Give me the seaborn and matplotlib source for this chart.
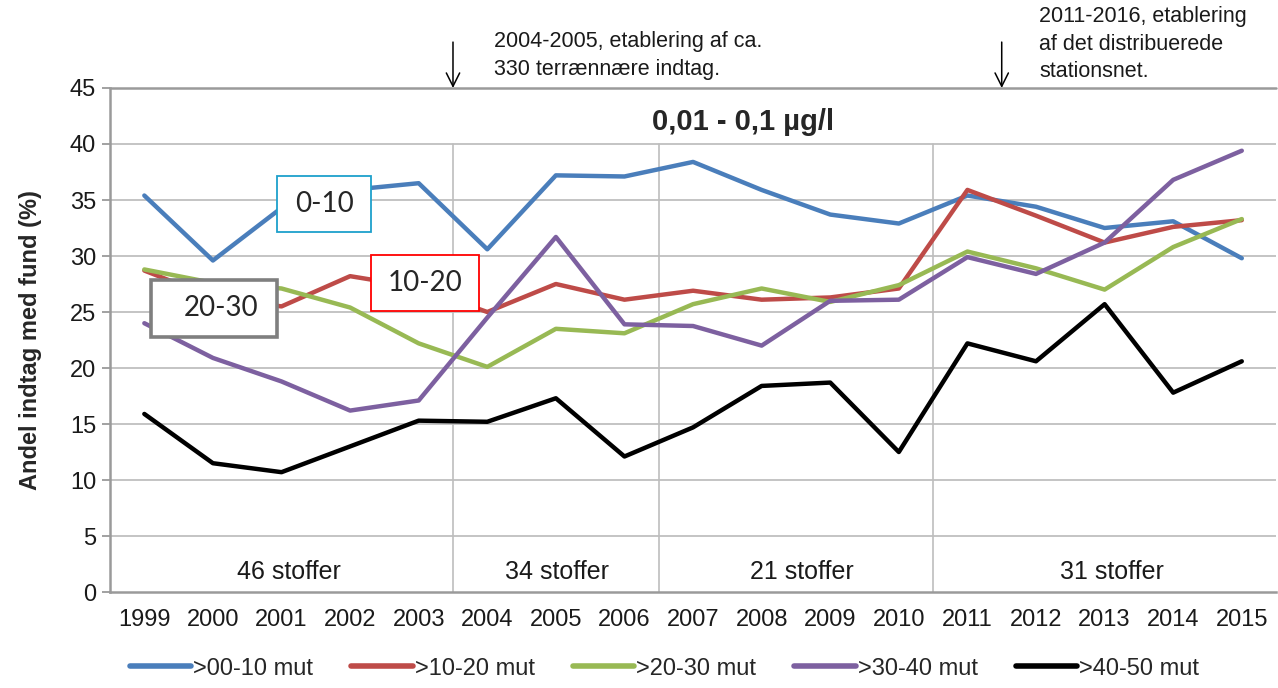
import numpy as np
import pandas as pd
import matplotlib
matplotlib.use("Agg")
import matplotlib.pyplot as plt
import seaborn as sns
from matplotlib.lines import Line2D
from matplotlib.patches import Rectangle

years = list(range(1999, 2016))
s_00_10 = [35.4, 29.6, 34.3, 35.9, 36.5, 30.6, 37.2, 37.1, 38.4, 35.9, 33.7, 32.9, 35.4, 34.4, 32.5, 33.1, 29.8]
s_10_20 = [28.7, 26.3, 25.5, 28.2, 27.2, 25.0, 27.5, 26.1, 26.9, 26.1, 26.3, 27.1, 35.9, 33.6, 31.2, 32.6, 33.2]
s_20_30 = [28.8, 27.6, 27.1, 25.4, 22.2, 20.1, 23.5, 23.1, 25.7, 27.1, 25.9, 27.4, 30.4, 28.9, 27.0, 30.8, 33.3]
s_30_40 = [24.0, 20.9, 18.8, 16.2, 17.1, 24.5, 31.7, 23.9, 23.75, 22.0, 26.0, 26.1, 29.9, 28.4, 31.2, 36.8, 39.4]
s_40_50 = [15.9, 11.5, 10.7, 13.0, 15.3, 15.2, 17.3, 12.1, 14.7, 18.4, 18.7, 12.5, 22.2, 20.6, 25.7, 17.8, 20.6]
series_names = [">00-10 mut", ">10-20 mut", ">20-30 mut", ">30-40 mut", ">40-50 mut"]
series_colors = ["#4a7ebb", "#be4b48", "#98b954", "#7d60a0", "#000000"]
period_labels = ["46 stoffer", "34 stoffer", "21 stoffer", "31 stoffer"]
period_centers = [2001.11, 2005.02, 2008.59, 2013.1]
period_breaks = [2003.5, 2006.5, 2010.5]
title = "0,01 - 0,1 µg/l"
ylabel = "Andel indtag med fund (%)"
note1 = "2004-2005, etablering af ca.\n330 terrænnære indtag."
note2 = "2011-2016, etablering\naf det distribuerede\nstationsnet."
box_labels = ["0-10", "10-20", "20-30"]

sns.set_theme(style="white")
plt.rcParams["font.family"] = ["Liberation Sans", "DejaVu Sans"]

all_series = [s_00_10, s_10_20, s_20_30, s_30_40, s_40_50]
df = pd.concat([
    pd.DataFrame({"year": years, "value": vals, "group": name})
    for name, vals in zip(series_names, all_series)
], ignore_index=True)

fig = plt.figure(figsize=(12.78, 6.88), dpi=100)
ax = fig.add_axes([0.0861, 0.1395, 0.9124, 0.7326])

# gridlines
for yv in range(5, 45, 5):
    ax.axhline(yv, color="#c4c4c4", lw=1.4, zorder=0)
ax.axhline(45, color="#9a9a9a", lw=1.8, zorder=0, clip_on=False)
for xb in period_breaks:
    ax.plot([xb, xb], [0, 40], color="#bdbdbd", lw=1.2, zorder=0)

sns.lineplot(data=df, x="year", y="value", hue="group", palette=series_colors,
             hue_order=series_names, lw=3.2, ax=ax, legend=False, zorder=3)

ax.set_xlim(1998.5, 2015.5)
ax.set_ylim(0, 45)
ax.set_yticks(range(0, 46, 5))
ax.set_xticks(years)
ax.set_xticklabels([str(y) for y in years])
ax.set_xticks(np.arange(1998.5, 2016, 1), minor=True)
ax.tick_params(axis="x", which="major", length=0, labelsize=17, pad=12, colors="#1a1a1a")
ax.tick_params(axis="x", which="minor", length=7, width=1.3, color="#9a9a9a", direction="out")
ax.tick_params(axis="y", length=6, width=1.3, color="#9a9a9a", labelsize=17, pad=4, labelcolor="#1a1a1a", left=True)
ax.set_xlabel("")
ax.set_ylabel(ylabel, fontsize=17, fontweight="bold", labelpad=20)
for side in ["top", "right"]:
    ax.spines[side].set_visible(False)
for side in ["left", "bottom"]:
    ax.spines[side].set_color("#9a9a9a")
    ax.spines[side].set_linewidth(1.8)

ax.text(2007.73, 42.0, title, ha="center", va="center", fontsize=21, fontweight="bold")

for lab, xc in zip(period_labels, period_centers):
    ax.text(xc, 1.8, lab, ha="center", va="center", fontsize=18, color="#1a1a1a")

# annotations above
for xa in [2003.5, 2011.5]:
    ax.annotate("", xy=(xa, 45.0), xytext=(xa, 49.1),
                arrowprops=dict(arrowstyle="->", color="black", lw=1.1, mutation_scale=24,
                                shrinkA=0, shrinkB=0),
                annotation_clip=False)
ax.text(2004.10, 47.9, note1, ha="left", va="center", fontsize=15.5, linespacing=1.4,
        color="#1a1a1a", clip_on=False)
ax.text(2012.05, 48.9, note2, ha="left", va="center", fontsize=15.5, linespacing=1.4,
        color="#1a1a1a", clip_on=False)

# label boxes (x0, x1, y0, y1 in data units)
box_font = ["Lato", "DejaVu Sans"]
box_specs = [
    (box_labels[0], 2000.94, 2002.31, 32.14, 37.14, "#1ea0cc", 1.3),
    (box_labels[1], 2002.31, 2003.88, 25.09, 30.09, "#ff0000", 1.3),
    (box_labels[2], 1999.10, 2000.94, 22.77, 27.86, "#7f7f7f", 2.6),
]
for lab, x0, x1, y0, y1, ec, lw in box_specs:
    ax.add_patch(Rectangle((x0, y0), x1 - x0, y1 - y0, fc="white", ec=ec, lw=lw, zorder=6))
    ax.text((x0 + x1) / 2 + (0.1 if lab == "20-30" else 0), (y0 + y1) / 2, lab,
            ha="center", va="center", fontsize=20, family=box_font, zorder=7)

handles = [Line2D([0], [0], color=c, lw=4, solid_capstyle="round") for c in series_colors]
fig.legend(handles, series_names, loc="center", bbox_to_anchor=(0.52, 0.028), ncol=5,
           frameon=False, fontsize=17, handlelength=2.6, handletextpad=0.1, columnspacing=1.6)

fig.savefig("out.png", dpi=100)
